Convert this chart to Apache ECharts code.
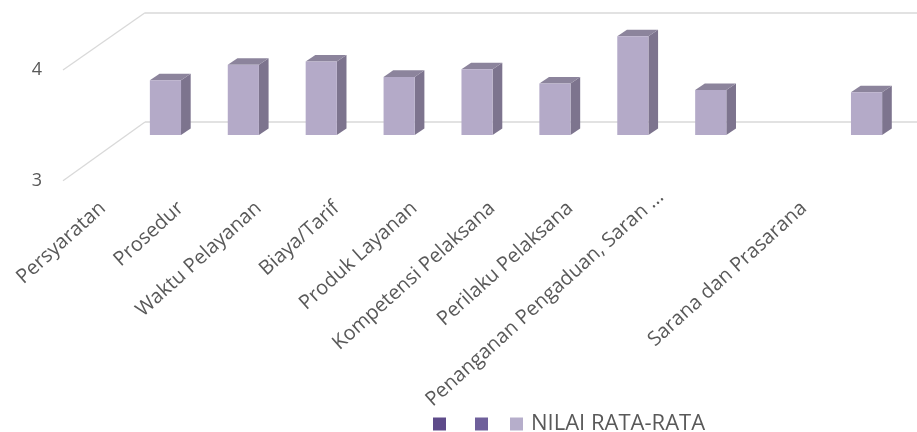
<!DOCTYPE html>
<html><head><meta charset="utf-8">
<script src="https://cdn.jsdelivr.net/npm/echarts@6/dist/echarts.min.js"></script>
<style>html,body{margin:0;padding:0;background:#fff}#c{width:917px;height:432px}</style>
</head><body><div id="c"></div>
<script>
// ---- data ----
const categories = ['Persyaratan', 'Prosedur', 'Waktu Pelayanan', 'Biaya/Tarif', 'Produk Layanan',
  'Kompetensi Pelaksana', 'Perilaku Pelaksana', 'Penanganan Pengaduan, Saran ...', '', 'Sarana dan Prasarana'];
const values = [3.50, 3.64, 3.67, 3.53, 3.60, 3.47, 3.90, 3.41, null, 3.39];
const yTicks = [3, 4];
const Y_MIN = 3, Y_MAX = 4, Y_STEP = 1;
const seriesName = 'NILAI RATA-RATA';
const legendNames = [' ', '  ', seriesName];

// ---- styles ----
const FONT = 'Open Sans';
const TXT = '#595959';
const GRIDC = '#d9d9d9';
const legendColors = ['#5e4b8a', '#6f609b', '#b6aecb'];
const FRONT = '#b4aac8', SIDE = '#7d748e', TOP = '#8c849c';
const LONG_IDX = 7;

const chart = echarts.init(document.getElementById('c'), null, {renderer: 'canvas'});

const barData = values.map((v, i) => v == null ? null : [i, v]).filter(Boolean);

const option = {
  backgroundColor: '#fff',
  animation: false,
  textStyle: {fontFamily: FONT},
  grid: [
    {left: 126.5, right: 11.5, top: 25.4, bottom: 297, outerBoundsMode: 'none'},   // bar plane
    {left: 63, width: 82, top: 70, bottom: 251.3, outerBoundsMode: 'none'},       // front edge (labels)
    {left: 145, right: 0, top: 12.7, bottom: 310, outerBoundsMode: 'none'},       // back wall
    {left: 76.5, right: 61.5, top: 100, bottom: 238, outerBoundsMode: 'none'}     // category labels
  ],
  xAxis: [
    {gridIndex: 0, type: 'category', data: categories, show: false},
    {gridIndex: 1, type: 'value', min: 0, max: 1, show: false},
    {gridIndex: 2, type: 'value', min: 0, max: 1, show: false},
    {gridIndex: 3, type: 'category', data: categories,
      axisLine: {show: false}, axisTick: {show: false}, splitLine: {show: false},
      axisLabel: {
        interval: 0, rotate: 42, margin: 0, color: TXT, fontSize: 20, fontFamily: FONT,
        formatter: (v, i) => i === LONG_IDX ? '{l|' + v + '}' : '{n|' + v + '}',
        rich: {
          n: {padding: [0, 17, 0, 0], fontSize: 20, color: TXT, fontFamily: FONT},
          l: {fontSize: 20, color: TXT, fontFamily: FONT}
        }
      }}
  ],
  yAxis: [
    {gridIndex: 0, type: 'value', min: Y_MIN, max: Y_MAX, interval: Y_STEP, show: false},
    {gridIndex: 1, type: 'value', min: Y_MIN, max: Y_MAX, interval: Y_STEP,
      axisLine: {show: false}, axisTick: {show: false}, splitLine: {show: false},
      axisLabel: {margin: 21, color: TXT, fontSize: 18, fontFamily: FONT}},
    {gridIndex: 2, type: 'value', min: Y_MIN, max: Y_MAX, interval: Y_STEP,
      axisLine: {show: false}, axisTick: {show: false}, axisLabel: {show: false},
      splitLine: {show: true, lineStyle: {color: GRIDC, width: 1.5}}},
    {gridIndex: 3, type: 'value', show: false}
  ],
  legend: legendNames.map((n, i) => ({
    data: [n], left: [433, 475, 510][i], top: 413, padding: 0,
    icon: 'rect', itemWidth: 13, itemHeight: 13, itemGap: 0, selectedMode: false,
    textStyle: {color: TXT, fontSize: 22, fontFamily: FONT, padding: [0, 0, 0, 3]}
  })),
  series: [
    {name: legendNames[0], type: 'bar', data: [], xAxisIndex: 0, yAxisIndex: 0, itemStyle: {color: legendColors[0]}},
    {name: legendNames[1], type: 'bar', data: [], xAxisIndex: 0, yAxisIndex: 0, itemStyle: {color: legendColors[1]}},
    {
      name: seriesName, type: 'custom', xAxisIndex: 0, yAxisIndex: 0,
      itemStyle: {color: legendColors[2]}, clip: false,
      encode: {x: 0, y: 1},
      data: barData,
      renderItem: (params, api) => {
        const c = api.value(0), v = api.value(1);
        if (isNaN(v)) return null;
        const top = api.coord([c, v]);
        const base = api.coord([c, Y_MIN]);
        const w = api.size([1, 0])[0] * 0.4;
        const dx = w * 0.31, dy = -w * 0.21;
        const x0 = top[0] - w / 2, x1 = top[0] + w / 2;
        return {
          type: 'group',
          children: [
            {type: 'polygon', shape: {points: [[x1, top[1]], [x1 + dx, top[1] + dy], [x1 + dx, base[1] + dy], [x1, base[1]]]},
              style: {fill: SIDE}},
            {type: 'polygon', shape: {points: [[x0, top[1]], [x0 + dx, top[1] + dy], [x1 + dx, top[1] + dy], [x1, top[1]]]},
              style: {fill: TOP}},
            {type: 'rect', shape: {x: x0, y: top[1], width: w, height: base[1] - top[1]},
              style: {fill: FRONT}}
          ]
        };
      }
    }
  ]
};
chart.setOption(option);

// diagonal floor/side-wall edges joining the front axis to the back wall
const diag = yTicks.map(v => {
  const f = chart.convertToPixel({gridIndex: 1}, [0, v]);
  const b = chart.convertToPixel({gridIndex: 2}, [0, v]);
  return {type: 'line', z: -10, silent: true,
    shape: {x1: f[0], y1: f[1], x2: b[0], y2: b[1]},
    style: {stroke: GRIDC, lineWidth: 1.3}};
});
chart.setOption({graphic: diag});
</script>
</body></html>
